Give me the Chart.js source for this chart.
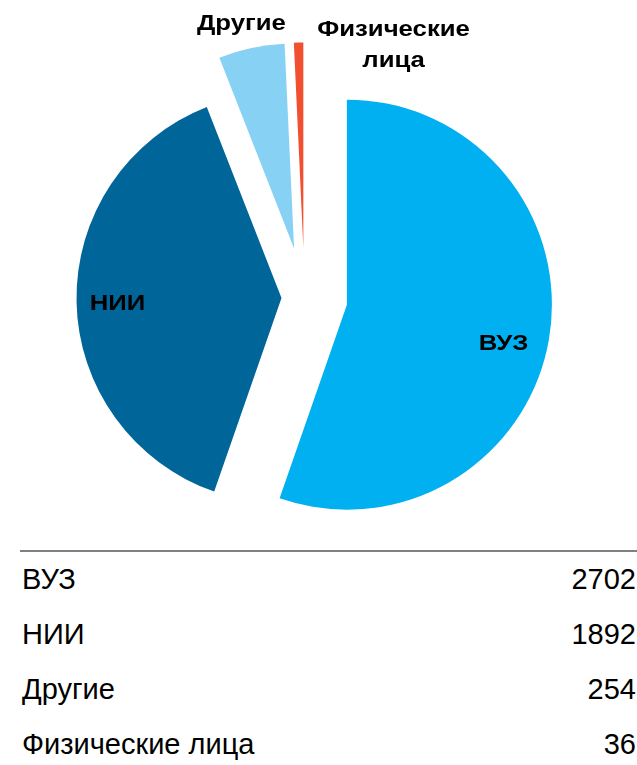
<!DOCTYPE html>
<html lang="ru">
<head>
<meta charset="utf-8">
<title>ВУЗ / НИИ</title>
<script src="https://cdn.jsdelivr.net/npm/chart.js@4.4.1/dist/chart.umd.min.js"></script>
<style>
    body { margin: 0; background: #fff; font-family: 'Liberation Sans', Arial, sans-serif; }
    #wrap { position: relative; width: 637px; height: 765px; overflow: hidden; }
    #chartBox { position: absolute; left: 0; top: 0; width: 637px; height: 540px; }
    #valuesTable { position: absolute; left: 20px; top: 550px; width: 617px; border-top: 2px solid #808080; font-size: 29px; color: #000; }
    .row { display: flex; justify-content: space-between; height: 55px; line-height: 55px; padding: 0 1px 0 2px; }
</style>
</head>
<body>
<div id="wrap">
    <div id="chartBox"><canvas id="pieChart"></canvas></div>
    <div id="valuesTable"></div>
</div>
<script>
const categories = ['ВУЗ', 'НИИ', 'Другие', 'Физические лица'];
const counts = [2702, 1892, 254, 36];

// цвета, выдвижение секторов (px) и размещение подписей
const sliceColors = ['#00B0F0', '#00669A', '#87D1F5', '#F0502F'];
const explodeShift = [43, 23, 50, 50];
const labelPlace = [
    { r: 0.8, dx: -5, dy: 12 },
    { r: 0.8, dx: 0, dy: 3 },
    { r: 1, dx: -10, dy: -24 },
    { r: 1, dx: 95, dy: 3 }
];
const PIE_RADIUS = 205;

// круговая диаграмма с выдвинутыми секторами (как в Excel)
class ExplodedPieController extends Chart.PieController {
    draw() {
        const ctx = this.chart.ctx;
        const area = this.chart.chartArea;
        this._cachedMeta.data.forEach((arc, i) => {
            const mid = (arc.startAngle + arc.endAngle) / 2;
            const shift = explodeShift[i] || 0;
            ctx.save();
            ctx.translate(Math.cos(mid) * shift, Math.sin(mid) * shift);
            arc.draw(ctx, area);
            ctx.restore();
        });
    }
}
ExplodedPieController.id = 'explodedPie';
Chart.register(ExplodedPieController);

// подписи секторов
const sliceLabels = {
    id: 'sliceLabels',
    afterDatasetsDraw(chart) {
        const ctx = chart.ctx;
        const arcs = chart.getDatasetMeta(0).data;
        ctx.save();
        ctx.font = 'bold 22px "Liberation Sans", Arial, sans-serif';
        ctx.fillStyle = '#000';
        ctx.textAlign = 'center';
        ctx.textBaseline = 'middle';
        arcs.forEach((arc, i) => {
            const mid = (arc.startAngle + arc.endAngle) / 2;
            const place = labelPlace[i];
            const r = explodeShift[i] + PIE_RADIUS * place.r;
            const x = arc.x + Math.cos(mid) * r + place.dx;
            const y = arc.y + Math.sin(mid) * r + place.dy;
            const lines = chart.data.labels[i].split(' ');
            lines.forEach((line, k) => {
                ctx.save();
                ctx.translate(x, y + (k - (lines.length - 1) / 2) * 30.5);
                ctx.scale(1.17, 1);
                ctx.fillText(line, 0, 0);
                ctx.restore();
            });
        });
        ctx.restore();
    }
};

new Chart(document.getElementById('pieChart'), {
    type: 'explodedPie',
    data: {
        labels: categories,
        datasets: [{
            data: counts,
            backgroundColor: sliceColors,
            borderWidth: 0,
            radius: PIE_RADIUS,
            clip: false
        }]
    },
    options: {
        responsive: true,
        maintainAspectRatio: false,
        animation: false,
        layout: { padding: { left: 0, right: 28, top: 55, bottom: 0 } },
        plugins: {
            legend: { display: false },
            tooltip: { enabled: false }
        }
    },
    plugins: [sliceLabels]
});

// таблица значений под диаграммой
const table = document.getElementById('valuesTable');
categories.forEach((name, i) => {
    const row = document.createElement('div');
    row.className = 'row';
    row.innerHTML = `<span>${name}</span><span>${counts[i]}</span>`;
    table.appendChild(row);
});
</script>
</body>
</html>
